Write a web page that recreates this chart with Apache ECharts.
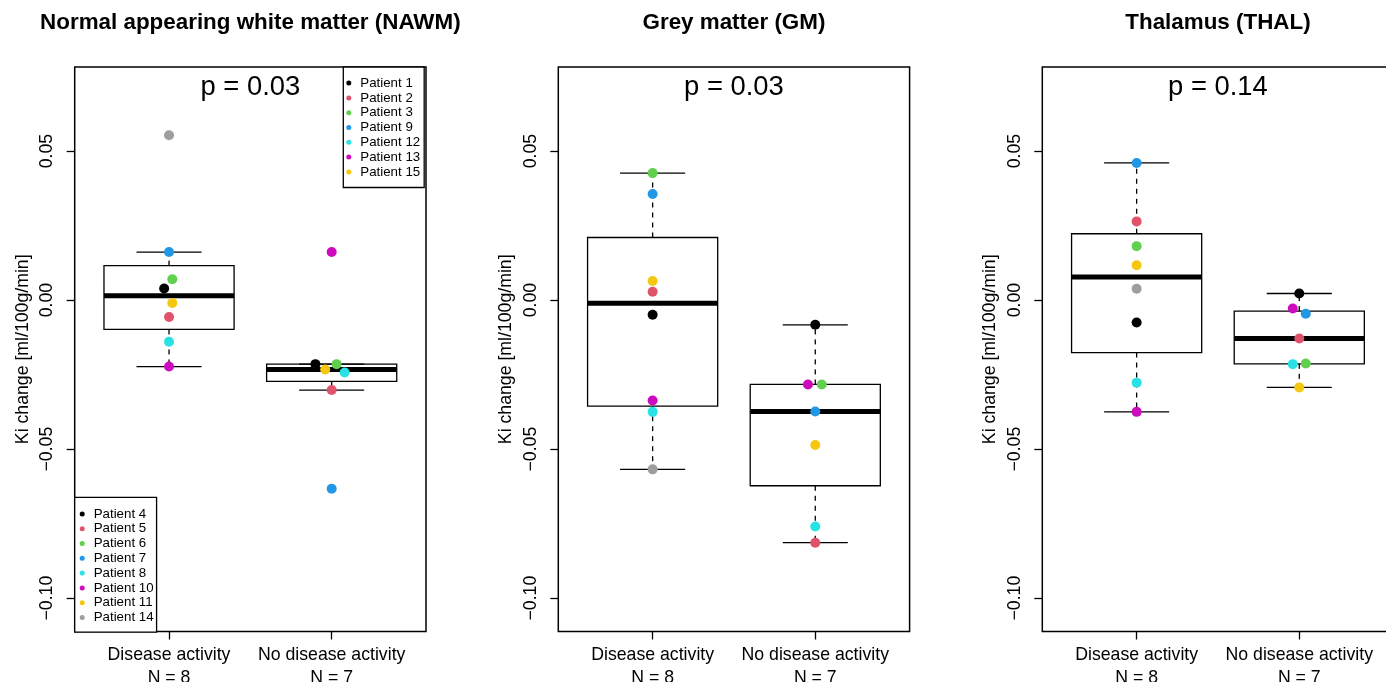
<!DOCTYPE html>
<html>
<head>
<meta charset="utf-8">
<title>Ki change by disease activity</title>
<script src="https://cdn.jsdelivr.net/npm/echarts@6/dist/echarts.min.js"></script>
<style>
  html, body { margin: 0; padding: 0; background: #fff; }
  #chart { width: 1386px; height: 682px; }
</style>
</head>
<body>
<div id="chart"></div>
<script>
// ---- data ----
const panelTitles = ['Normal appearing white matter (NAWM)', 'Grey matter (GM)', 'Thalamus (THAL)']
const pLabels = ['p = 0.03', 'p = 0.03', 'p = 0.14']
const groupLabels = ['Disease activity\nN = 8', 'No disease activity\nN = 7']
const yTicks = [-0.1, -0.05, 0, 0.05]

// colour order: black, red, green, blue, cyan, magenta, yellow, grey
const activePatients = ['Patient 4', 'Patient 5', 'Patient 6', 'Patient 7', 'Patient 8', 'Patient 10', 'Patient 11', 'Patient 14']
const stablePatients = ['Patient 1', 'Patient 2', 'Patient 3', 'Patient 9', 'Patient 12', 'Patient 13', 'Patient 15']
const patientColors = ['#000000', '#DF536B', '#61D04F', '#2297E6', '#28E2E5', '#CD0BBC', '#F5C710', '#9E9E9E']

const nawmActive = [0.0039, -0.0057, 0.0070, 0.0161, -0.0140, -0.0223, -0.0010, 0.0553]
const nawmStable = [-0.0215, -0.0302, -0.0215, -0.0633, -0.0243, 0.0161, -0.0233]
const gmActive = [-0.0049, 0.0028, 0.0426, 0.0356, -0.0375, -0.0337, 0.0064, -0.0568]
const gmStable = [-0.0083, -0.0814, -0.0283, -0.0374, -0.0760, -0.0283, -0.0486]
const thalActive = [-0.0075, 0.0264, 0.0181, 0.0460, -0.0277, -0.0375, 0.0117, 0.0038]
const thalStable = [0.0022, -0.0129, -0.0213, -0.0046, -0.0215, -0.0028, -0.0293]

// horizontal jitter of the points (in group units)
const nawmActiveJitter = [-0.03, 0, 0.02, 0, 0, 0, 0.02, 0]
const nawmStableJitter = [-0.10, 0, 0.03, 0, 0.08, 0, -0.04]
const gmActiveJitter = [0, 0, 0, 0, 0, 0, 0, 0]
const gmStableJitter = [0, 0, 0.04, 0, 0, -0.045, 0]
const thalActiveJitter = [0, 0, 0, 0, 0, 0, 0, 0]
const thalStableJitter = [0, 0, 0.04, 0.04, -0.04, -0.04, 0]

// ---- layout ----
const FONT = "'Liberation Sans', Arial, Helvetica, sans-serif"
const gridLefts = [74.7, 558.3, 1042.3]
const GRID_TOP = 67
const GRID_W = 351.3
const GRID_H = 564.5
const BOX_HALF = 0.4
const STAPLE_HALF = 0.2

const panels = [
  { active: nawmActive, stable: nawmStable, aj: nawmActiveJitter, sj: nawmStableJitter },
  { active: gmActive, stable: gmStable, aj: gmActiveJitter, sj: gmStableJitter },
  { active: thalActive, stable: thalStable, aj: thalActiveJitter, sj: thalStableJitter },
]

// R style boxplot stats: fivenum hinges + 1.5 IQR whiskers
function boxStats(vals) {
  const s = [...vals].sort((a, b) => a - b)
  const n = s.length
  const n4 = Math.floor((n + 3) / 2) / 2
  const d = [1, n4, (n + 1) / 2, n + 1 - n4, n]
  const f = d.map(i => 0.5 * (s[Math.floor(i) - 1] + s[Math.ceil(i) - 1]))
  const iqr = f[3] - f[1]
  const lo = Math.min(...s.filter(v => v >= f[1] - 1.5 * iqr))
  const hi = Math.max(...s.filter(v => v <= f[3] + 1.5 * iqr))
  return [lo, f[1], f[2], f[3], hi]
}

function renderBox(params, api) {
  const x = api.value(0)
  const lo = api.value(1), q1 = api.value(2), med = api.value(3), q3 = api.value(4), hi = api.value(5)
  const line = (a, b, style) => {
    const p1 = api.coord(a), p2 = api.coord(b)
    return { type: 'line', shape: { x1: p1[0], y1: p1[1], x2: p2[0], y2: p2[1] }, style: style }
  }
  const thin = { stroke: '#000', lineWidth: 1.3 }
  const dashed = { stroke: '#000', lineWidth: 1.3, lineDash: [5, 5] }
  const tl = api.coord([x - BOX_HALF, q3])
  const br = api.coord([x + BOX_HALF, q1])
  return {
    type: 'group',
    children: [
      line([x, q3], [x, hi], dashed),
      line([x, q1], [x, lo], dashed),
      line([x - STAPLE_HALF, hi], [x + STAPLE_HALF, hi], thin),
      line([x - STAPLE_HALF, lo], [x + STAPLE_HALF, lo], thin),
      {
        type: 'rect',
        shape: { x: tl[0], y: tl[1], width: br[0] - tl[0], height: br[1] - tl[1] },
        style: { fill: 'none', stroke: '#000', lineWidth: 1.3 },
      },
      line([x - BOX_HALF, med], [x + BOX_HALF, med], { stroke: '#000', lineWidth: 5 }),
    ],
  }
}

const grids = [], xAxes = [], yAxes = [], titles = [], series = [], frames = []

panels.forEach((pn, i) => {
  const cx = gridLefts[i] + GRID_W / 2
  grids.push({
    left: gridLefts[i], top: GRID_TOP, width: GRID_W, height: GRID_H,
    outerBoundsMode: 'none', containLabel: false, show: false,
  })
  // plot frame (R box())
  frames.push({
    type: 'rect', silent: true, z: 1,
    shape: { x: gridLefts[i], y: GRID_TOP, width: GRID_W, height: GRID_H },
    style: { fill: 'none', stroke: '#000', lineWidth: 1.5 },
  })
  xAxes.push({
    type: 'value', gridIndex: i, min: 0.42, max: 2.58,
    axisLine: { show: false, onZero: false },
    splitLine: { show: false },
    axisTick: { show: true, customValues: [1, 2], length: 8, lineStyle: { color: '#000', width: 1.3 } },
    axisLabel: {
      customValues: [1, 2],
      formatter: v => groupLabels[Math.round(v) - 1],
      margin: 12, fontSize: 17.7, lineHeight: 23, color: '#000', fontFamily: FONT,
    },
  })
  yAxes.push({
    type: 'value', gridIndex: i, min: -0.1112, max: 0.0782,
    name: 'Ki change [ml/100g/min]', nameLocation: 'middle', nameGap: 43,
    nameTextStyle: { fontSize: 17.7, color: '#000', fontFamily: FONT },
    axisLine: { show: false, onZero: false },
    splitLine: { show: false },
    axisTick: { show: true, customValues: yTicks, length: 8, lineStyle: { color: '#000', width: 1.3 } },
    axisLabel: {
      customValues: yTicks, rotate: 90, margin: 18.5,
      formatter: v => v.toFixed(2).replace('-', '\u2212'),
      fontSize: 17.7, color: '#000', fontFamily: FONT,
    },
  })
  titles.push({
    text: panelTitles[i], left: cx, top: 12, textAlign: 'center', padding: 0,
    textStyle: { fontSize: 22.4, fontWeight: 'bold', color: '#000', fontFamily: FONT },
  })
  titles.push({
    text: pLabels[i], left: cx, top: 73.5, textAlign: 'center', padding: 0,
    textStyle: { fontSize: 27.4, fontWeight: 'normal', color: '#000', fontFamily: FONT },
  })

  series.push({
    type: 'custom', xAxisIndex: i, yAxisIndex: i, silent: true, z: 2,
    renderItem: renderBox,
    encode: { x: 0, y: [1, 2, 3, 4, 5] },
    data: [[1, ...boxStats(pn.active)], [2, ...boxStats(pn.stable)]],
  })
  const addPoints = (names, vals, jit, gx) => {
    vals.forEach((v, k) => {
      series.push({
        type: 'scatter', name: names[k], xAxisIndex: i, yAxisIndex: i, z: 3,
        symbol: 'circle', symbolSize: 10, silent: true,
        itemStyle: { color: patientColors[k], opacity: 1 },
        data: [[gx + jit[k], v]],
      })
    })
  }
  addPoints(activePatients, pn.active, pn.aj, 1)
  addPoints(stablePatients, pn.stable, pn.sj, 2)
})

const legendBase = {
  orient: 'vertical', selectedMode: false, icon: 'circle',
  itemWidth: 13, itemHeight: 5, itemGap: 1.6,
  backgroundColor: '#fff', borderColor: '#000', borderWidth: 1.3,
  textStyle: { fontSize: 13.3, lineHeight: 13.2, color: '#000', fontFamily: FONT },
}

const chart = echarts.init(document.getElementById('chart'))
chart.setOption({
  animation: false,
  backgroundColor: '#fff',
  title: titles,
  grid: grids,
  xAxis: xAxes,
  yAxis: yAxes,
  graphic: frames,
  legend: [
    Object.assign({}, legendBase, { data: stablePatients, left: 343.3, top: 67, padding: [9.5, 4, 9, 3] }),
    Object.assign({}, legendBase, { data: activePatients, left: 74.7, top: 497.3, padding: [10, 3, 8, 5] }),
  ],
  series: series,
})
</script>
</body>
</html>
